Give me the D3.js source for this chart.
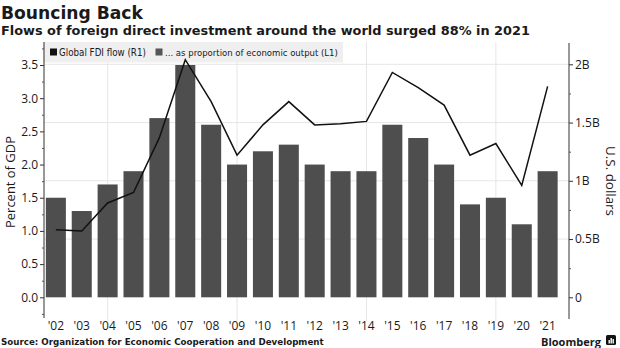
<!DOCTYPE html>
<html>
<head>
<meta charset="utf-8">
<script src="https://cdn.jsdelivr.net/npm/d3@7"></script>
<style>
  body { margin: 0; background: #fff; }
  svg { display: block; }
  text { fill: #1a1a1a; }
</style>
</head>
<body>
<svg id="chart" width="620" height="348"></svg>
<script>
// ---- data ----
const years = ["'02","'03","'04","'05","'06","'07","'08","'09","'10","'11","'12","'13","'14","'15","'16","'17","'18","'19","'20","'21"];
const pctGDP = [1.5, 1.3, 1.7, 1.9, 2.7, 3.5, 2.6, 2.0, 2.2, 2.3, 2.0, 1.9, 1.9, 2.6, 2.4, 2.0, 1.4, 1.5, 1.1, 1.9];
const fdiFlow = [0.58, 0.57, 0.81, 0.90, 1.37, 2.04, 1.68, 1.22, 1.48, 1.68, 1.48, 1.49, 1.51, 1.93, 1.80, 1.65, 1.22, 1.32, 0.96, 1.81];
const leftTicks = [0, 0.5, 1, 1.5, 2, 2.5, 3, 3.5];
const leftMinor = [-0.25, 0.25, 0.75, 1.25, 1.75, 2.25, 2.75, 3.25, 3.75];
const rightTicks = [0, 0.5, 1, 1.5, 2];
const rightMinor = [0.25, 0.75, 1.25, 1.75];
const gridYears = ["'04","'09","'14","'19"];
const titleText = "Bouncing Back";
const subtitleText = "Flows of foreign direct investment around the world surged 88% in 2021";
const sourceText = "Source: Organization for Economic Cooperation and Development";
const legendLabels = ["Global FDI flow (R1)", "... as proportion of economic output (L1)"];

const svg = d3.select("#chart");
const tickFont = "'Open Sans', 'DejaVu Sans', sans-serif";
const boldFont = "'DejaVu Sans', Verdana, sans-serif";

function fit(sel, w) {
  const n = sel.node();
  const fs = parseFloat(sel.attr("font-size"));
  const cur = n.getComputedTextLength();
  sel.attr("font-size", (fs * w / cur).toFixed(2));
}

const plotTop = 42, plotBottom = 318;
const leftX = 44, rightX = 569;

const x = d3.scaleBand().domain(years).range([43, 560.5]).paddingInner(0.226).paddingOuter(0.11);
const yL = d3.scaleLinear().domain([0, 3.5]).range([297.3, 65]);
const yR = d3.scaleLinear().domain([0, 2]).range([297.3, 64.3]);

// gridlines
const grid = svg.append("g");
grid.selectAll("line.h").data(rightTicks.filter(d => d > 0)).join("line")
  .attr("x1", leftX).attr("x2", rightX)
  .attr("y1", d => yR(d)).attr("y2", d => yR(d))
  .attr("stroke", "#e6e6e6").attr("stroke-width", 1);
grid.selectAll("line.v").data(gridYears).join("line")
  .attr("x1", d => x(d) + x.bandwidth() / 2).attr("x2", d => x(d) + x.bandwidth() / 2)
  .attr("y1", plotTop).attr("y2", plotBottom + 3)
  .attr("stroke", "#e6e6e6").attr("stroke-width", 1);

// legend box
const lg = svg.append("g");
lg.append("rect").attr("x", 43).attr("y", 42).attr("width", 300).attr("height", 20.5).attr("fill", "#efefef");

// bars
svg.append("g").selectAll("rect").data(years).join("rect")
  .attr("x", d => x(d))
  .attr("width", x.bandwidth())
  .attr("y", (d, i) => yL(pctGDP[i]))
  .attr("height", (d, i) => yL(0) - yL(pctGDP[i]))
  .attr("fill", "#4e4e4e");

// line
const line = d3.line()
  .x((d, i) => x(years[i]) + x.bandwidth() / 2)
  .y(d => yR(d));
svg.append("path").datum(fdiFlow)
  .attr("d", line)
  .attr("fill", "none").attr("stroke", "#111").attr("stroke-width", 1.5)
  .attr("stroke-linejoin", "miter");

// left axis
const gl = svg.append("g").attr("transform", `translate(${leftX},0)`);
gl.append("line").attr("y1", plotTop).attr("y2", plotBottom).attr("stroke", "#333");
gl.call(g => {
  const ax = d3.axisLeft(yL).tickValues(leftTicks).tickFormat(d3.format(".1f")).tickSize(4).tickPadding(2);
  const a = g.append("g").call(ax);
  a.select(".domain").remove();
  a.selectAll("line").attr("stroke", "#333");
  a.selectAll("text").attr("font-family", tickFont).attr("font-size", 12).attr("fill", "#1a1a1a");
  const m = g.append("g").call(d3.axisLeft(yL).tickValues(leftMinor).tickFormat("").tickSize(2));
  m.select(".domain").remove();
  m.selectAll("line").attr("stroke", "#555");
});

// right axis
const gr = svg.append("g").attr("transform", `translate(${rightX},0)`);
gr.append("line").attr("y1", plotTop + 1).attr("y2", plotBottom + 1).attr("stroke", "#333");
gr.call(g => {
  const ax = d3.axisRight(yR).tickValues(rightTicks).tickFormat(d => d === 0 ? "0" : d + "B").tickSize(4).tickPadding(2);
  const a = g.append("g").call(ax);
  a.select(".domain").remove();
  a.selectAll("line").attr("stroke", "#333");
  a.selectAll("text").attr("font-family", tickFont).attr("font-size", 12).attr("fill", "#1a1a1a");
  const m = g.append("g").call(d3.axisRight(yR).tickValues(rightMinor).tickFormat("").tickSize(2));
  m.select(".domain").remove();
  m.selectAll("line").attr("stroke", "#555");
});

// x axis labels
const gx = svg.append("g").attr("transform", `translate(0,${plotBottom})`);
const xa = d3.axisBottom(x).tickSize(0).tickPadding(3);
gx.call(xa);
gx.select(".domain").remove();
gx.selectAll("text").attr("font-family", tickFont).attr("font-size", 12).attr("fill", "#1a1a1a");

// axis titles
const at1 = svg.append("text").attr("transform", "translate(15,182) rotate(-90)")
  .attr("text-anchor", "middle").attr("font-family", tickFont).attr("font-size", 14)
  .text("Percent of GDP");
fit(at1, 92);
const at2 = svg.append("text").attr("transform", "translate(606,181) rotate(90)")
  .attr("text-anchor", "middle").attr("font-family", tickFont).attr("font-size", 14)
  .text("U.S. dollars");
fit(at2, 70);

// legend entries
lg.append("rect").attr("x", 50).attr("y", 48.5).attr("width", 7).attr("height", 7).attr("fill", "#111");
const l1 = lg.append("text").attr("x", 59).attr("y", 56).attr("font-family", "'DejaVu Sans Condensed', 'Liberation Sans Narrow', sans-serif")
  .attr("font-size", 10).text(legendLabels[0]);
fit(l1, 87);
lg.append("rect").attr("x", 155.5).attr("y", 48.5).attr("width", 7).attr("height", 7).attr("fill", "#555");
const l2 = lg.append("text").attr("x", 165).attr("y", 56).attr("font-family", "'DejaVu Sans Condensed', 'Liberation Sans Narrow', sans-serif")
  .attr("font-size", 10).text(legendLabels[1]);
fit(l2, 173);

// titles
const t1 = svg.append("text").attr("x", 1).attr("y", 18.5).attr("font-family", boldFont).attr("font-weight", "bold")
  .attr("font-size", 18).text(titleText);
fit(t1, 142);
const t2 = svg.append("text").attr("x", 1).attr("y", 34.5).attr("font-family", boldFont).attr("font-weight", "bold")
  .attr("font-size", 13).text(subtitleText);
fit(t2, 529);
const src = svg.append("text").attr("x", 1).attr("y", 344.5).attr("font-family", boldFont).attr("font-weight", "bold")
  .attr("font-size", 10).text(sourceText);
fit(src, 323);

// Bloomberg mark
const bb = svg.append("text").attr("x", 541).attr("y", 345.5).attr("font-family", "'Open Sans', sans-serif").attr("font-weight", "bold")
  .attr("font-size", 12).text("Bloomberg");
fit(bb, 60);
svg.append("rect").attr("x", 606).attr("y", 335).attr("width", 10).attr("height", 10).attr("rx", 1.5).attr("fill", "#111");
svg.append("rect").attr("x", 608.5).attr("y", 340).attr("width", 1.4).attr("height", 3.5).attr("fill", "#fff");
svg.append("rect").attr("x", 610.5).attr("y", 338).attr("width", 1.4).attr("height", 5.5).attr("fill", "#fff");
svg.append("rect").attr("x", 612.5).attr("y", 339).attr("width", 1.4).attr("height", 4.5).attr("fill", "#fff");
</script>
</body>
</html>
